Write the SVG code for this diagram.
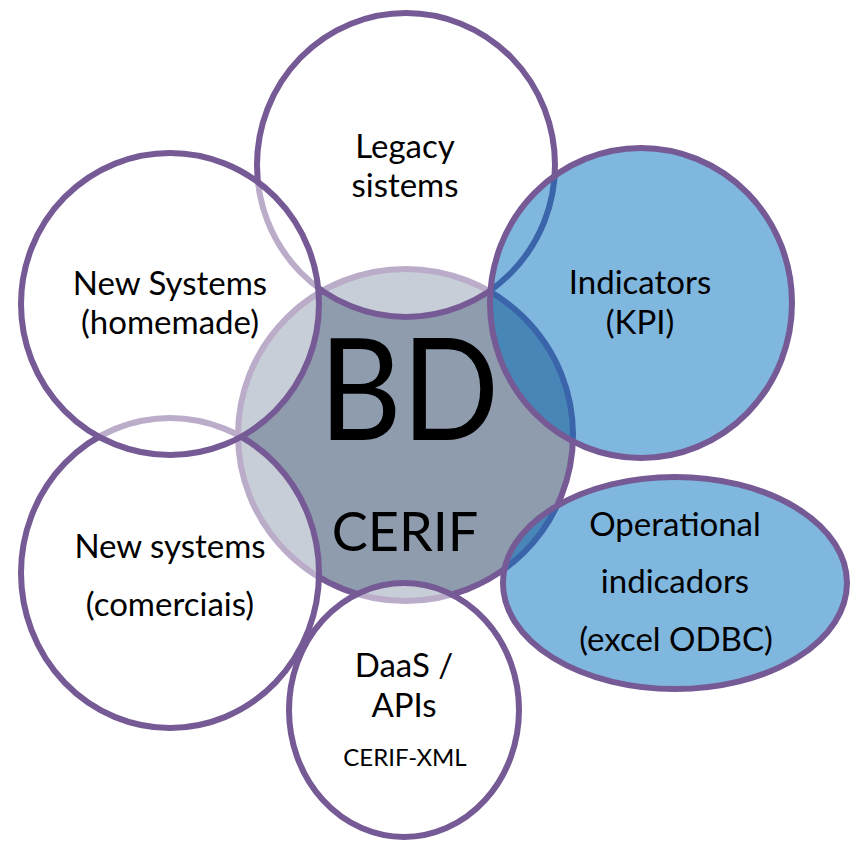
<svg xmlns="http://www.w3.org/2000/svg" width="857" height="841" viewBox="0 0 857 841">
<style>
.c{stroke:#765a95;stroke-width:6}
.w{fill:#ffffff;fill-opacity:.5}
.b{fill:#0070c0;fill-opacity:.5}
text{font-family:Lato,"Liberation Sans",sans-serif;fill:#000000;text-anchor:middle}
.t{font-size:33px}
.s{font-size:24px}
</style>
<rect width="857" height="841" fill="#ffffff"/>
<g id="bd-cerif">
<ellipse cx="405.5" cy="435" rx="167.5" ry="166" fill="#8f9cae" class="c"/>
<text x="409" y="440" style="font-size:142px" textLength="180" lengthAdjust="spacingAndGlyphs">BD</text>
<text x="405" y="551" style="font-size:54px">CERIF</text>
</g>
<g id="legacy">
<ellipse cx="406" cy="165" rx="149" ry="152" class="c w"/>
<text class="t" x="405" y="158">Legacy</text>
<text class="t" x="405" y="197">sistems</text>
</g>
<g id="comerciais">
<ellipse cx="170" cy="573" rx="149" ry="155" class="c w"/>
<text class="t" x="170" y="558">New systems</text>
<text class="t" x="170" y="616">(comerciais)</text>
</g>
<g id="daas">
<ellipse cx="404" cy="710" rx="115" ry="127" class="c w"/>
<text class="t" x="404" y="677">DaaS /</text>
<text class="t" x="404" y="717">APIs</text>
<text class="s" x="405" y="766">CERIF-XML</text>
</g>
<g id="homemade">
<ellipse cx="170" cy="304" rx="149" ry="151" class="c w"/>
<text class="t" x="170" y="295">New Systems</text>
<text class="t" x="170" y="334">(homemade)</text>
</g>
<g id="kpi">
<ellipse cx="641" cy="303" rx="151" ry="155" class="c b"/>
<text class="t" x="640" y="294">Indicators</text>
<text class="t" x="640" y="334">(KPI)</text>
</g>
<g id="operational">
<ellipse cx="675" cy="583" rx="172" ry="106" class="c b"/>
<text class="t" x="675" y="536">Operational</text>
<text class="t" x="675" y="593">indicadors</text>
<text class="t" x="676" y="651">(excel ODBC)</text>
</g>
<g id="connectors"/>
</svg>
